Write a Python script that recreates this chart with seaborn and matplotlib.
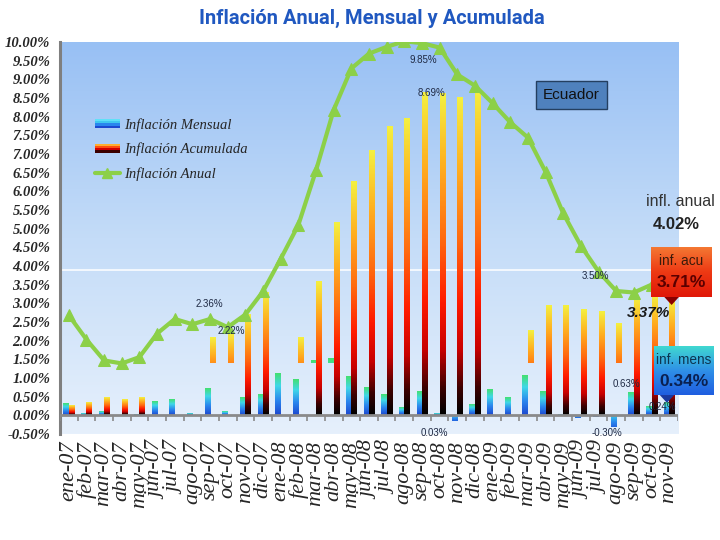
import numpy as np
import pandas as pd
import matplotlib
matplotlib.use("Agg")
import matplotlib.pyplot as plt
import seaborn as sns
from matplotlib.colors import LinearSegmentedColormap
from matplotlib.patches import Rectangle, Polygon, Patch
from matplotlib.lines import Line2D
from matplotlib.legend_handler import HandlerBase
from matplotlib.font_manager import FontProperties

# ---------------- data ----------------
meses = ['ene-07', 'feb-07', 'mar-07', 'abr-07', 'may-07', 'jun-07', 'jul-07', 'ago-07',
         'sep-07', 'oct-07', 'nov-07', 'dic-07', 'ene-08', 'feb-08', 'mar-08', 'abr-08',
         'may-08', 'jun-08', 'jul-08', 'ago-08', 'sep-08', 'oct-08', 'nov-08', 'dic-08',
         'ene-09', 'feb-09', 'mar-09', 'abr-09', 'may-09', 'jun-09', 'jul-09', 'ago-09',
         'sep-09', 'oct-09', 'nov-09']
anual = [2.68, 2.03, 1.47, 1.39, 1.56, 2.19, 2.58, 2.44, 2.58, 2.36, 2.70, 3.32,
         4.19, 5.10, 6.56, 8.18, 9.29, 9.69, 9.87, 10.02, 9.97, 9.85, 9.13, 8.83,
         8.36, 7.85, 7.44, 6.52, 5.41, 4.54, 3.85, 3.33, 3.29, 3.50, 4.02]
mensual = [0.30, 0.04, 0.09, 0.00, 0.01, 0.36, 0.41, 0.04, 0.71, 0.10, 0.48, 0.55,
           1.10, 0.94, 1.48, 1.52, 1.03, 0.74, 0.55, 0.21, 0.64, 0.03, -0.15, 0.29,
           0.69, 0.47, 1.07, 0.64, -0.03, -0.06, -0.05, -0.30, 0.61, 0.22, 0.34]
mensual_base = [0, 0, 0, 0, 0, 0, 0, 0, 0, 0, 0, 0,
                0, 0, 1.40, 1.40, 0, 0, 0, 0, 0, 0, 0, 0,
                0, 0, 0, 0, 0, 0, 0, 0, 0, 0, 0]
acumulada = [0.25, 0.33, 0.46, 0.41, 0.46, 0, 0, 0, 2.08, 2.20, 2.68, 3.28,
             0, 2.08, 3.57, 5.15, 6.25, 7.08, 7.72, 7.95, 8.63, 8.60, 8.50, 8.72,
             0, 0, 2.28, 2.92, 2.92, 2.83, 2.77, 2.46, 3.14, 3.20, 3.10]
acumulada_base = [0, 0, 0, 0, 0, 0, 0, 0, 1.40, 1.40, 0, 0,
                  0, 1.40, 0, 0, 0, 0, 0, 0, 0, 0, 0, 0,
                  0, 0, 1.40, 0, 0, 0, 0, 1.40, 0, 0, 0]
series = ['Inflación Mensual', 'Inflación Acumulada', 'Inflación Anual']
n = len(meses)

# ---------------- style ----------------
sns.set_style("white")
plt.rcParams['font.family'] = ['DejaVu Sans']

blue_cmap = LinearSegmentedColormap.from_list(
    "blu", [(0, '#1c48d0'), (0.35, '#2a86ee'), (0.7, '#3fd8e8'), (1, '#44e070')])
red_cmap = LinearSegmentedColormap.from_list(
    "red", [(0, '#000000'), (0.08, '#3a0000'), (0.2, '#c80000'), (0.35, '#ff1a00'),
            (0.55, '#ff6a10'), (0.78, '#ffb020'), (1, '#f4f040')])
bg_cmap = LinearSegmentedColormap.from_list("bg", ['#e6f0fc', '#c4dcf8', '#98c0f4'])

fig = plt.figure(figsize=(7.2, 5.4), dpi=100)
ax = fig.add_axes([0.0833, 0.1963, 0.8584, 0.7259])
ax.set_facecolor('none')

df = pd.DataFrame({
    'mes': meses * 2,
    'serie': [series[0]] * n + [series[1]] * n,
    'valor': mensual + acumulada,
})
sns.barplot(data=df, x='mes', y='valor', hue='serie', order=meses,
            hue_order=series[:2], width=0.62, dodge=True, errorbar=None,
            ax=ax, legend=False)

bases = [mensual_base, acumulada_base]
cmaps = [blue_cmap, red_cmap]
for ci, cont in enumerate(ax.containers[:2]):
    for j, bar in enumerate(cont.patches):
        top = bar.get_height()
        bar.set_visible(False)
        if top == 0:
            continue
        base = bases[ci][j]
        x0 = bar.get_x()
        x1 = x0 + bar.get_width()
        if top > 0:
            frac = (np.linspace(base, top, 200) / top).reshape(-1, 1)
            ext = [x0, x1, base, top]
        else:
            frac = np.linspace(0.15, 0.65, 200).reshape(-1, 1)
            ext = [x0, x1, top, 0]
        ax.imshow(frac, extent=ext, origin='lower', cmap=cmaps[ci],
                  vmin=0, vmax=1, aspect='auto', zorder=2, interpolation='bilinear')

# background gradient
ax.imshow(np.linspace(0, 1, 256).reshape(-1, 1), extent=[0, 1, 0, 1],
          transform=ax.transAxes, origin='lower', cmap=bg_cmap, aspect='auto',
          zorder=0)
ax.axhline(3.88, color='white', lw=1.1, zorder=1)

green = '#8cd048'
sns.lineplot(x=np.arange(n), y=anual, ax=ax, color=green, lw=3.0, marker='^',
             markersize=8, markeredgecolor=green, zorder=5)

ax.set_xlim(-0.5, n - 0.5)
ax.set_ylim(-0.5, 10.0)

# axis at zero with hanging ticks
ax.axhline(0, color='#8a8a8a', lw=2, zorder=3)
ax.vlines(np.arange(n + 1) - 0.5, -0.14, 0, color='#8a8a8a', lw=1.2, zorder=3)

for s in ['top', 'right', 'bottom']:
    ax.spines[s].set_visible(False)
ax.spines['left'].set_color('#7f7f7f')
ax.spines['left'].set_linewidth(2.2)

yt = np.arange(-0.5, 10.01, 0.5)
ax.set_yticks(yt)
ax.set_yticklabels([f"{v:.2f}%" for v in yt])
ax.tick_params(axis='y', direction='out', length=5, width=1.5, color='#7f7f7f', pad=2)
for lab in ax.get_yticklabels():
    lab.set_fontproperties(FontProperties(family='Liberation Serif', style='italic',
                                          weight='bold', size=10.5))
ax.set_xticks(np.arange(n))
ax.set_xticklabels(meses, rotation=90)
ax.tick_params(axis='x', length=0, pad=5)
for lab in ax.get_xticklabels():
    lab.set_fontproperties(FontProperties(family='Liberation Serif', style='italic', size=16))
ax.set_xlabel('')
ax.set_ylabel('')

# ---------------- legend ----------------
class GradHandler(HandlerBase):
    def __init__(self, colors):
        super().__init__()
        self.colors = colors

    def create_artists(self, legend, orig_handle, xdescent, ydescent, width,
                       height, fontsize, trans):
        k = len(self.colors)
        arts = []
        for i, c in enumerate(self.colors):
            arts.append(Rectangle((-xdescent, -ydescent + i * height / k), width,
                                  height / k, facecolor=c, edgecolor='none',
                                  transform=trans))
        return arts

h1 = Patch(facecolor='#2a86ee')
h2 = Patch(facecolor='#ff1a00')
h3 = Line2D([], [], color=green, lw=3, marker='^', markersize=7)
ax.legend(handles=[h1, h2, h3], labels=series,
          handler_map={h1: GradHandler(['#1c48d0', '#2a86ee', '#3fc8f0', '#60e0f8']),
                       h2: GradHandler(['#3a0000', '#d00000', '#ff5010', '#ffb030'])},
          loc='upper left', bbox_to_anchor=(0.035, 0.84), frameon=False,
          prop=FontProperties(family='Liberation Serif', style='italic', size=10.5),
          handlelength=1.7, handleheight=0.55, labelspacing=0.75, handletextpad=0.3)

# ---------------- data labels ----------------
small = dict(fontsize=7, color='#1f2a44', family='Liberation Sans', ha='center',
             va='center', zorder=6)
ax.text(20.05, 9.52, '9.85%', **small)
ax.text(20.56, 8.63, '8.69%', **small)
ax.text(7.94, 2.98, '2.36%', **small)
ax.text(9.18, 2.25, '2.22%', **small)
ax.text(29.8, 3.73, '3.50%', **small)
ax.text(31.6, 0.83, '0.63%', **small)
ax.text(20.7, -0.47, '0.03%', **small)
ax.text(30.5, -0.47, '-0.30%', **small)
ax.text(33.6, 0.21, '0.24%', **small)
ax.text(32.8, 2.73, '3.37%', fontsize=11, color='#1a1a1a', family='Liberation Sans',
        style='italic', weight='bold', ha='center', va='center', zorder=6)

# ---------------- annotations ----------------
fig.text(0.517, 0.966, 'Inflación Anual, Mensual y Acumulada', ha='center',
         va='center', fontsize=14.5, fontweight='bold', color='#2058c0', family='Roboto')

fig.text(0.794, 0.824, 'Ecuador', ha='center', va='center', fontsize=11,
         family='Liberation Sans', color='#111111',
         bbox=dict(boxstyle='square,pad=0.45', fc='#4f81bd', ec='#243f60', lw=1))

fig.text(0.945, 0.626, 'infl. anual', ha='center', va='center', fontsize=11.5,
         family='Liberation Sans', color='#333333')
fig.text(0.939, 0.585, '4.02%', ha='center', va='center', fontsize=12,
         family='Liberation Sans', weight='bold', color='#222222')


def callout(rect, cmap, line1, line2, c1, c2, tipx, pcol):
    bx = fig.add_axes(rect)
    bx.imshow(np.linspace(0, 1, 64).reshape(-1, 1), extent=[0, 1, 0, 1],
              origin='lower', cmap=cmap, aspect='auto')
    bx.set_xlim(0, 1)
    bx.set_ylim(0, 1)
    bx.axis('off')
    bx.add_patch(Polygon([[tipx - 0.12, 0.0], [tipx + 0.12, 0.0], [tipx, -0.16]],
                         closed=True, fc=pcol, ec='none', clip_on=False))
    bx.text(0.5, 0.72, line1, ha='center', va='center', fontsize=9.8,
            family='Liberation Sans', color=c1)
    bx.text(0.5, 0.28, line2, ha='center', va='center', fontsize=12.5,
            family='Liberation Sans', weight='bold', color=c2)


acu_box = LinearSegmentedColormap.from_list("ab", ['#e01808', '#ee3a14', '#f47a34'])
mens_box = LinearSegmentedColormap.from_list("mb", ['#1f5ee0', '#2f90e8', '#40d8d0'])
callout([0.904, 0.45, 0.0847, 0.0926], acu_box, 'inf. acu', '3.71%',
        '#3a1a0a', '#5a0000', 0.34, '#8a0000')
callout([0.908, 0.2685, 0.0833, 0.0907], mens_box, 'inf. mens', '0.34%',
        '#0d3550', '#0a2050', 0.22, '#1a3aa0')

fig.savefig('out.png', dpi=100)
